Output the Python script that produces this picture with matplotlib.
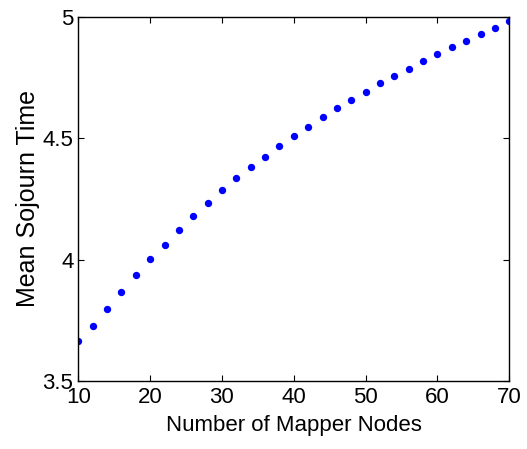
import matplotlib
matplotlib.use("Agg")
import matplotlib.pyplot as plt

mapper_nodes = list(range(10, 71, 2))
mean_sojourn = [3.663, 3.728, 3.796, 3.865, 3.935, 4.001, 4.061, 4.122, 4.179, 4.233,
                4.285, 4.334, 4.380, 4.423, 4.467, 4.509, 4.544, 4.586, 4.623, 4.656,
                4.691, 4.726, 4.756, 4.786, 4.817, 4.846, 4.874, 4.900, 4.927, 4.952,
                4.981]
xticks = [10, 20, 30, 40, 50, 60, 70]
yticks = [3.5, 4, 4.5, 5]
ytick_labels = ["3.5", "4", "4.5", "5"]

plt.rcParams['font.family'] = ['Liberation Sans', 'DejaVu Sans']
fig = plt.figure(figsize=(5.27, 4.49), dpi=100)
ax = fig.add_axes([0.1486, 0.1514, 0.8178, 0.8114])
ax.plot(mapper_nodes, mean_sojourn, 'o', color='#0000ff', markersize=5.3, markeredgewidth=0)
ax.set_xlim(10, 70)
ax.set_ylim(3.5, 5)
ax.set_xticks(xticks)
ax.set_xticklabels([str(t) for t in xticks])
ax.set_yticks(yticks)
ax.set_yticklabels(ytick_labels)
ax.tick_params(direction='in', top=True, right=True, length=4, width=0.8,
               labelsize=16)
ax.tick_params(axis='x', pad=4)
ax.tick_params(axis='y', pad=3.5)
for s in ax.spines.values():
    s.set_linewidth(1.0)
ax.set_xlabel("Number of Mapper Nodes", fontsize=16)
ax.xaxis.set_label_coords(0.5, -0.092)
ax.xaxis.label.set_va('top')
ax.set_ylabel("Mean Sojourn Time", fontsize=18)
ax.yaxis.set_label_coords(-0.117, 0.5)
ax.yaxis.label.set_va('center')
fig.savefig("out.png", dpi=100)
